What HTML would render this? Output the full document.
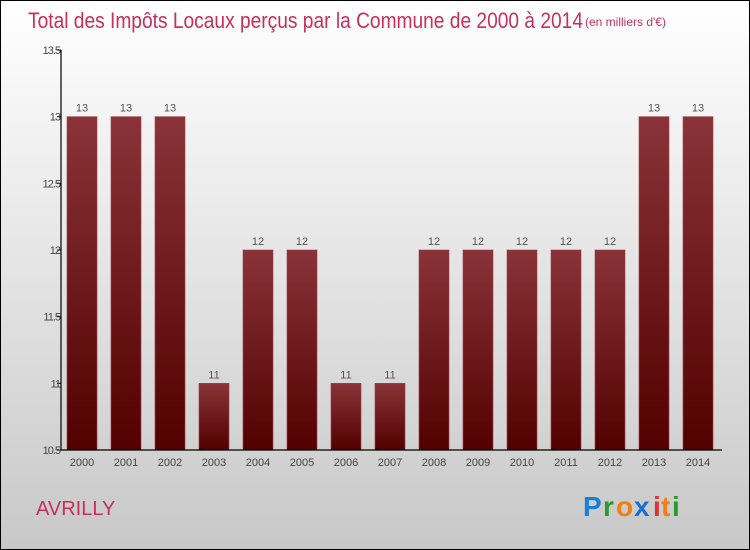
<!DOCTYPE html>
<html><head><meta charset="utf-8"><style>
body{margin:0}
#c{width:748px;height:548px;border:1px solid #000;background:linear-gradient(#fff,#c8c8c8);position:relative;font-family:"Liberation Sans",sans-serif;overflow:hidden}
</style></head><body>
<div id="c">
<svg width="748" height="548" viewBox="1 1 748 548" id="s">
<defs><linearGradient id="g" x1="0" y1="0" x2="0" y2="1"><stop offset="0" stop-color="#8a3338"/><stop offset="1" stop-color="#520000"/></linearGradient></defs>
<text x="28" y="28" font-size="22" fill="#c8305a" textLength="555" lengthAdjust="spacingAndGlyphs">Total des Impôts Locaux perçus par la Commune de 2000 à 2014</text>
<text x="585" y="26" font-size="12" fill="#c8305a">(en milliers d'€)</text>
<text x="36" y="515" font-size="20" fill="#c8305a">AVRILLY</text>
<g font-size="28" font-weight="bold" font-family="Liberation Sans,sans-serif">
<text x="583" y="516" fill="#1a7fd8">P</text><text x="603" y="516" fill="#2a9a2a">r</text><text x="616" y="516" fill="#f08010">o</text><text x="634" y="516" fill="#1a6fd0">x</text><text x="653" y="516" fill="#e03030">i</text><text x="661" y="516" fill="#f08010">t</text><text x="672" y="516" fill="#2a9a2a">i</text></g>
<g id="plot"></g>
</svg></div>
<script>
const years=["2000","2001","2002","2003","2004","2005","2006","2007","2008","2009","2010","2011","2012","2013","2014"];
const values=[13,13,13,11,12,12,11,11,12,12,12,12,12,13,13];
const labels=["13","13","13","11","12","12","11","11","12","12","12","12","12","13","13"];
const yTicks=[10.5,11,11.5,12,12.5,13,13.5];
const yTickLabels=["10.5","11","11.5","12","12.5","13","13.5"];
const ymin=10.5,ymax=13.5,yTop=50,yBot=450,ax=61;
const y=v=>yBot-(v-ymin)/(ymax-ymin)*(yBot-yTop);
const xc=i=>82+i*44;
const ns="http://www.w3.org/2000/svg",plotG=document.getElementById('plot');
function mk(t,a,txt){const e=document.createElementNS(ns,t);for(const k in a)e.setAttribute(k,a[k]);if(txt!=null)e.textContent=txt;plotG.appendChild(e);return e;}
values.forEach((v,i)=>{
 const r=mk('rect',{x:xc(i)-15,y:y(v),width:30,height:yBot-y(v),fill:'url(#g)',stroke:'#9a4048','stroke-width':0.6});
 
 
 const t=mk('text',{x:xc(i),y:y(v)-5,'font-size':11,fill:'#555','text-anchor':'middle'},labels[i]);
 
 
 const xl=mk('text',{x:xc(i),y:466,'font-size':11,fill:'#444','text-anchor':'middle'},years[i]);
 
 
});
yTicks.forEach((v,i)=>{
 const l=mk('line',{x1:ax-4,x2:ax,y1:y(v),y2:y(v),stroke:'#000'});
 
 
 const t=mk('text',{x:ax-1,y:y(v)+4,'font-size':11,fill:'#444','text-anchor':'end','letter-spacing':'-1'},yTickLabels[i]);
 
 
});
const ya=mk('line',{x1:ax,x2:ax,y1:yTop,y2:yBot,stroke:'#000','stroke-width':1.2});


const xa=mk('line',{x1:ax,x2:722,y1:yBot,y2:yBot,stroke:'#000','stroke-width':1.2});


</script>
</body></html>
